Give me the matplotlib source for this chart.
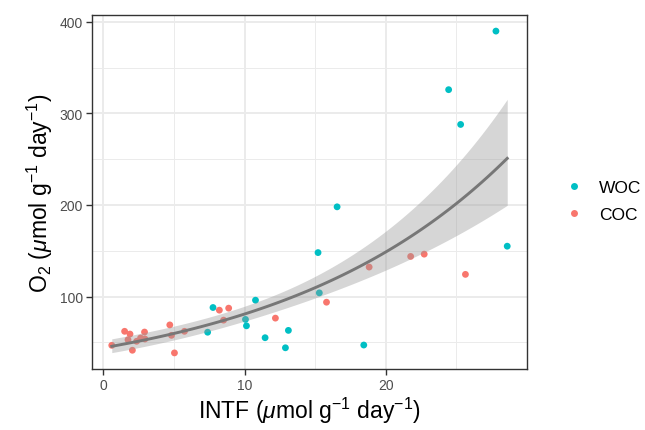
import numpy as np
import matplotlib
matplotlib.use("Agg")
import matplotlib.pyplot as plt
from matplotlib.lines import Line2D

plt.rcParams['font.family'] = ['Liberation Sans', 'DejaVu Sans']
plt.rcParams['mathtext.fontset'] = 'custom'
plt.rcParams['mathtext.rm'] = 'Liberation Sans'
plt.rcParams['mathtext.it'] = 'Liberation Sans:italic'
plt.rcParams['mathtext.bf'] = 'Liberation Sans:bold'

# ---------------- data ----------------
groups = ["WOC", "COC"]
colors = {"WOC": "#00BFC4", "COC": "#F8766D"}

woc_x = [27.8, 24.45, 25.3, 16.55, 15.2, 28.6, 15.29, 10.77, 7.76, 10.06,
         10.13, 7.38, 11.45, 13.1, 12.89, 18.44]
woc_y = [390, 326, 288, 198, 148, 155, 104, 96, 88, 75,
         68, 61, 55, 63, 44, 47]

coc_x = [0.59, 1.5, 1.88, 1.74, 2.05, 2.35, 2.63, 2.91, 2.94, 4.7,
         4.82, 5.03, 5.74, 8.21, 8.87, 8.51, 12.18, 15.8, 18.82, 21.76,
         22.72, 25.64]
coc_y = [46.7, 62, 59, 52.8, 41.3, 51.1, 54.7, 61.2, 53.6, 69,
         57.6, 38.4, 62, 85.1, 87.3, 74.2, 76.4, 93.8, 132.2, 143.8,
         146.3, 124.2]

x_ticks = [0, 10, 20]
y_ticks = [100, 200, 300, 400]

# ------------- GLM fit (Gamma family, log link) -------------
x_all = np.array(woc_x + coc_x, dtype=float)
y_all = np.array(woc_y + coc_y, dtype=float)
X = np.column_stack([np.ones_like(x_all), x_all])
beta = np.linalg.lstsq(X, np.log(y_all), rcond=None)[0]
for _ in range(200):
    eta = X @ beta
    mu = np.exp(eta)
    z = eta + (y_all - mu) / mu
    beta = np.linalg.solve(X.T @ X, X.T @ z)
mu = np.exp(X @ beta)
phi = np.sum(((y_all - mu) / mu) ** 2) / (len(y_all) - 2)
cov = phi * np.linalg.inv(X.T @ X)
xg = np.linspace(x_all.min(), x_all.max(), 80)
Xg = np.column_stack([np.ones_like(xg), xg])
eg = Xg @ beta
se = np.sqrt(np.einsum('ij,jk,ik->i', Xg, cov, Xg))
fit = np.exp(eg)
lo = np.exp(eg - 1.959964 * se)
hi = np.exp(eg + 1.959964 * se)

# ---------------- plot ----------------
fig = plt.figure(figsize=(6.45, 4.31), dpi=100)
ax = fig.add_axes([92 / 645, 1 - 370 / 431, (527 - 92) / 645, (370 - 16) / 431])

for g, xs, ys in [("WOC", woc_x, woc_y), ("COC", coc_x, coc_y)]:
    ax.scatter(xs, ys, s=24, color=colors[g], edgecolors='none', zorder=3)

ax.fill_between(xg, lo, hi, color='#999999', alpha=0.4, linewidth=0, zorder=4)
ax.plot(xg, fit, color='#777777', linewidth=2.1, zorder=5)

xr = x_all.max() - x_all.min()
yr = y_all.max() - y_all.min()
ax.set_xlim(x_all.min() - 0.05 * xr, x_all.max() + 0.05 * xr)
ax.set_ylim(y_all.min() - 0.05 * yr, y_all.max() + 0.05 * yr)

ax.set_xticks(x_ticks)
ax.set_yticks(y_ticks)
ax.set_xticks([5, 15, 25], minor=True)
ax.set_yticks([50, 150, 250, 350], minor=True)
ax.grid(which='major', color='#EBEBEB', linewidth=1.4, zorder=0)
ax.grid(which='minor', color='#EBEBEB', linewidth=0.7, zorder=0)
ax.set_axisbelow(True)
ax.tick_params(which='major', length=4, width=1.0, color='#333333',
               labelcolor='#4D4D4D', labelsize=10, pad=2.5)
ax.tick_params(which='minor', length=0)
for sp in ax.spines.values():
    sp.set_color('#333333')
    sp.set_linewidth(1.0)

ax.set_xlabel(r"INTF ($\mu$mol g$^{-1}$ day$^{-1}$)", fontsize=16.5, labelpad=2)
ax.set_ylabel(r"O$_2$ ($\mu$mol g$^{-1}$ day$^{-1}$)", fontsize=16.5, labelpad=3)

handles = [Line2D([], [], marker='o', linestyle='none', markersize=5,
                  markerfacecolor=colors[g], markeredgecolor='none') for g in groups]
fig.legend(handles, groups, loc='center left', bbox_to_anchor=(566 / 645, 1 - 202 / 431),
           frameon=False, fontsize=12.5, handlelength=0.96, handletextpad=0.96,
           labelspacing=0.72, borderaxespad=0, borderpad=0)

fig.savefig("out.png", dpi=100)
